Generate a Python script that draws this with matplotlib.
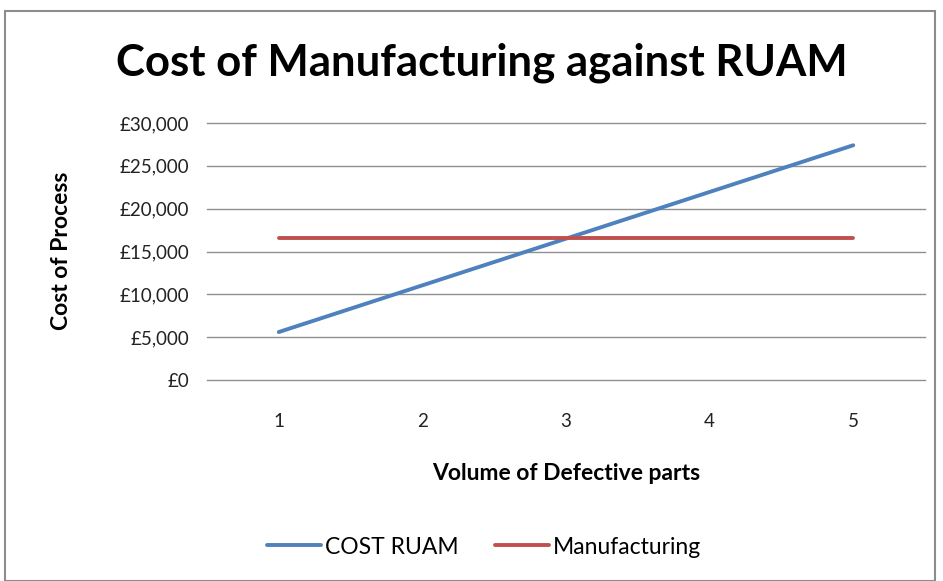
import matplotlib
matplotlib.use("Agg")
import matplotlib.pyplot as plt
from matplotlib.ticker import FuncFormatter
from matplotlib.patches import Rectangle

categories = [1, 2, 3, 4, 5]
cost_ruam = [5600, 11050, 16500, 21950, 27400]
manufacturing = [16600, 16600, 16600, 16600, 16600]
yticks = [0, 5000, 10000, 15000, 20000, 25000, 30000]

plt.rcParams['font.family'] = ['Lato', 'DejaVu Sans']

fig = plt.figure(figsize=(9.43, 5.81), dpi=100)
W, H = 943, 581
ax = fig.add_axes([207 / W, 1 - 380 / H, (925 - 207) / W, (380 - 123) / H])

ax.plot(categories, cost_ruam, color='#4F81BD', lw=2.8, solid_capstyle='round', label='COST RUAM')
ax.plot(categories, manufacturing, color='#C0504D', lw=2.8, solid_capstyle='round', label='Manufacturing')

ax.set_xlim(0.5, 5.5)
ax.set_ylim(0, 30000)
ax.set_yticks(yticks)
ax.set_xticks(categories)
ax.yaxis.set_major_formatter(FuncFormatter(lambda v, p: '£{:,.0f}'.format(v)))
ax.grid(axis='y', color='#909090', lw=1)
for gl in ax.get_ygridlines():
    gl.set_clip_on(False)
ax.set_axisbelow(True)
for s in ax.spines.values():
    s.set_visible(False)
ax.tick_params(axis='both', length=0, labelsize=13.5, colors='#222222')
ax.tick_params(axis='y', pad=13)
ax.tick_params(axis='x', pad=24)

fig.text(566 / W, 1 - 474 / H, 'Volume of Defective parts', ha='center', va='center',
         fontsize=16.5, fontweight='bold')
fig.text(61 / W, 1 - 251 / H, 'Cost of Process', rotation=90, ha='center', va='center',
         fontsize=16.5, fontweight='bold')
fig.text(482 / W, 1 - 63 / H, 'Cost of Manufacturing against RUAM', ha='center', va='center',
         fontsize=31.5, fontweight='bold')

leg = fig.legend(loc='center', bbox_to_anchor=(484 / W, 1 - 547 / H), ncol=2, frameon=False,
                 fontsize=16.5, handlelength=2.35, handletextpad=0.18, columnspacing=1.6)

fig.patches.append(Rectangle((5 / W, 0), (935 - 5) / W, 1 - 11 / H, transform=fig.transFigure,
                             fill=False, edgecolor='#8C8C8C', lw=1.5))

fig.savefig('out.png', dpi=100)
